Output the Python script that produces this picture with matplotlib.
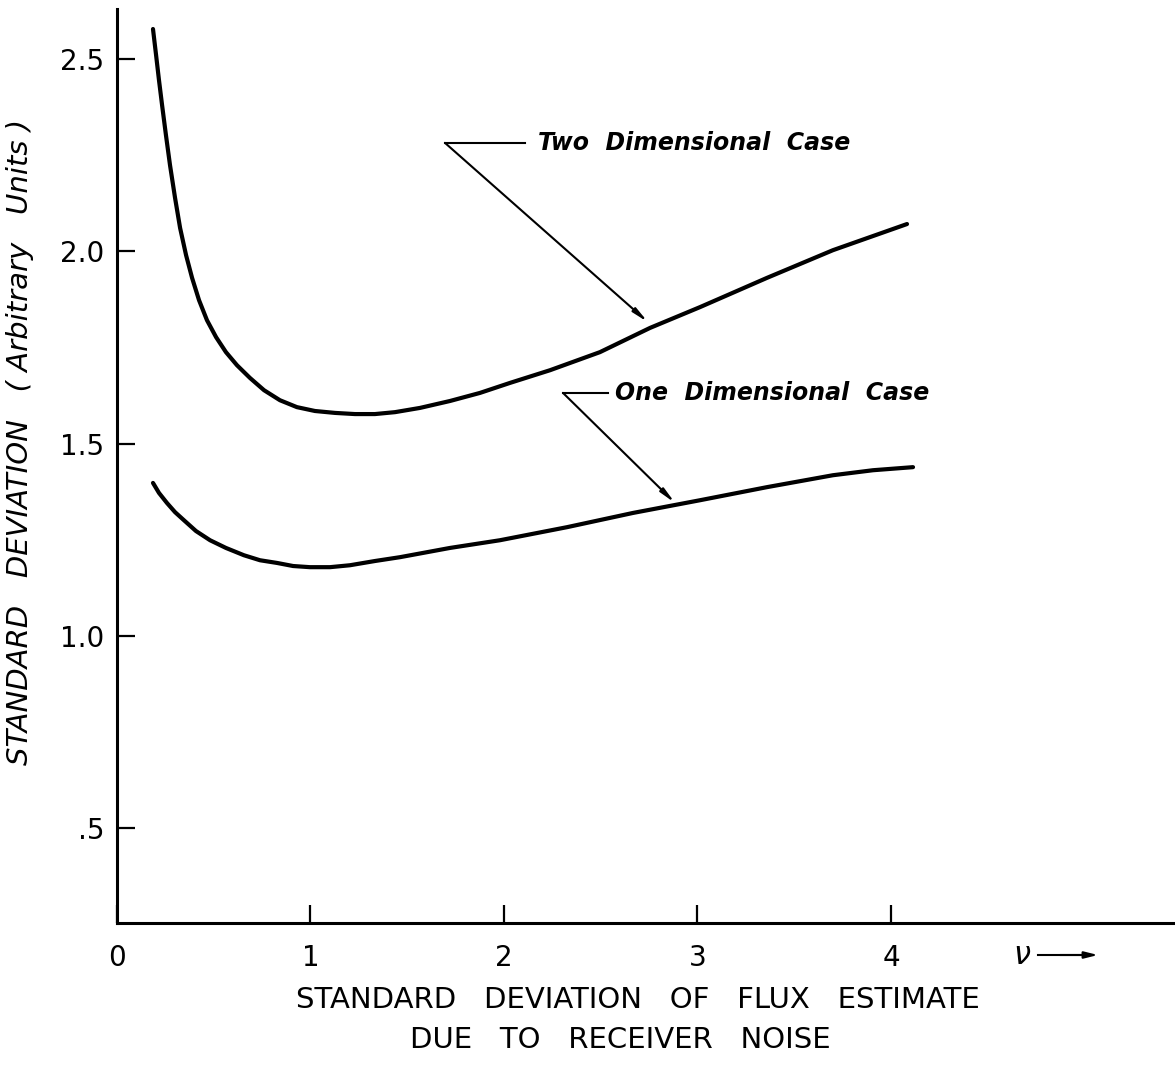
import matplotlib.pyplot as plt

# values
nu_two = [0.186, 0.202, 0.217, 0.233, 0.253, 0.274, 0.300, 0.326, 0.357, 0.388,
          0.424, 0.465, 0.512, 0.563, 0.620, 0.687, 0.760, 0.842, 0.930, 1.023,
          1.127, 1.230, 1.333, 1.437, 1.566, 1.721, 1.876, 2.031, 2.238, 2.496,
          2.755, 3.013, 3.359, 3.700, 4.083]
sd_two = [2.578, 2.510, 2.445, 2.380, 2.302, 2.224, 2.139, 2.061, 1.990, 1.931,
          1.873, 1.821, 1.777, 1.738, 1.704, 1.671, 1.639, 1.613, 1.595, 1.585,
          1.580, 1.577, 1.577, 1.582, 1.593, 1.611, 1.632, 1.658, 1.691, 1.738,
          1.801, 1.855, 1.931, 2.003, 2.071]

nu_one = [0.186, 0.217, 0.258, 0.300, 0.346, 0.408, 0.481, 0.563, 0.656, 0.739,
          0.827, 0.910, 0.997, 1.101, 1.204, 1.333, 1.463, 1.721, 1.979, 2.326,
          2.667, 3.013, 3.359, 3.700, 3.907, 4.114]
sd_one = [1.398, 1.372, 1.346, 1.322, 1.301, 1.273, 1.249, 1.229, 1.210, 1.197,
          1.190, 1.182, 1.179, 1.179, 1.184, 1.195, 1.205, 1.229, 1.249, 1.283,
          1.320, 1.353, 1.387, 1.418, 1.431, 1.439]

x_ticks = [0, 1, 2, 3, 4]
x_ticklabels = ['0', '1', '2', '3', '4']
y_ticks = [0.5, 1.0, 1.5, 2.0, 2.5]
y_ticklabels = ['.5', '1.0', '1.5', '2.0', '2.5']

fig = plt.figure(figsize=(11.75, 10.69), dpi=100)
ax = fig.add_axes([117 / 1175, 1 - 923 / 1069, 1 - 117 / 1175, (923 - 9) / 1069])

ax.plot(nu_two, sd_two, color='black', lw=3.0, solid_capstyle='round', solid_joinstyle='round')
ax.plot(nu_one, sd_one, color='black', lw=3.0, solid_capstyle='round', solid_joinstyle='round')

ax.set_xlim(0, 5.468)
ax.set_ylim(0.254, 2.63)

ax.spines['top'].set_visible(False)
ax.spines['right'].set_visible(False)
ax.spines['left'].set_linewidth(2.2)
ax.spines['bottom'].set_linewidth(2.2)

ax.set_xticks(x_ticks)
ax.set_xticklabels(x_ticklabels)
ax.set_yticks(y_ticks)
ax.set_yticklabels(y_ticklabels)
ax.tick_params(direction='in', length=13, width=1.6, labelsize=20)
ax.tick_params(axis='x', pad=15)
ax.tick_params(axis='y', pad=9)

# annotations
arrow = dict(arrowstyle='-|>,head_length=0.9,head_width=0.15', color='black', lw=1.5,
             shrinkA=0, shrinkB=0)
ax.plot([1.695, 2.109], [2.282, 2.282], color='black', lw=1.5)
ax.annotate('', xy=(2.744, 1.816), xytext=(1.695, 2.282), arrowprops=arrow)
ax.text(2.176, 2.282, 'Two  Dimensional  Case', fontsize=17, style='italic',
        fontweight='bold', va='center', ha='left')

ax.plot([2.305, 2.537], [1.632, 1.632], color='black', lw=1.5)
ax.annotate('', xy=(2.884, 1.346), xytext=(2.305, 1.632), arrowprops=arrow)
ax.text(2.574, 1.632, 'One  Dimensional  Case', fontsize=17, style='italic',
        fontweight='bold', va='center', ha='left')

# nu arrow
fig.text(1022 / 1175, 1 - 955 / 1069, r'$\nu$', fontsize=22, ha='center', va='center')
fig.add_artist(plt.Line2D([1038 / 1175, 1085 / 1175], [1 - 955 / 1069, 1 - 955 / 1069],
                          color='black', lw=1.5))
ax.annotate('', xy=(1098 / 1175, 1 - 955 / 1069), xytext=(1060 / 1175, 1 - 955 / 1069),
            xycoords='figure fraction', textcoords='figure fraction',
            arrowprops=dict(arrowstyle='-|>,head_length=0.8,head_width=0.2',
                            color='black', lw=1.5, shrinkA=0, shrinkB=0))

fig.text(20 / 1175, 1 - 442 / 1069, 'STANDARD   DEVIATION   ( Arbitrary   Units )',
         rotation=90, style='italic', fontsize=21, ha='center', va='center')
fig.text(638 / 1175, 1 - 1000 / 1069, 'STANDARD   DEVIATION   OF   FLUX   ESTIMATE',
         fontsize=21, ha='center', va='center')
fig.text(620 / 1175, 1 - 1040 / 1069, 'DUE   TO   RECEIVER   NOISE',
         fontsize=21, ha='center', va='center')

fig.savefig('out.png', dpi=100)
